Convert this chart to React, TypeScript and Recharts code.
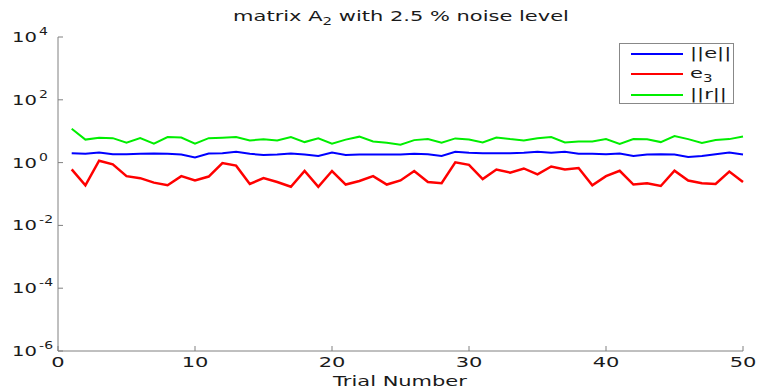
import React from 'react';
import { LineChart, Line, XAxis, YAxis, Legend } from 'recharts';

const trials = [
  1, 2, 3, 4, 5, 6, 7, 8, 9, 10, 11, 12, 13, 14, 15, 16, 17, 18, 19, 20, 21, 22, 23, 24, 25,
  26, 27, 28, 29, 30, 31, 32, 33, 34, 35, 36, 37, 38, 39, 40, 41, 42, 43, 44, 45, 46, 47, 48, 49, 50,
];

// ||e||
const errNorm = [
  2.0, 1.9, 2.1, 1.85, 1.85, 1.9, 1.95, 1.9, 1.8, 1.45, 1.95, 2.0, 2.2, 1.9, 1.75, 1.8, 1.95, 1.8, 1.62, 2.1,
  1.75, 1.8, 1.8, 1.8, 1.8, 1.9, 1.85, 1.62, 2.2, 2.05, 2.0, 2.0, 2.0, 2.05, 2.2, 2.05, 2.2, 1.9, 1.9, 1.85,
  1.95, 1.62, 1.8, 1.85, 1.8, 1.5, 1.62, 1.85, 2.1, 1.8,
];

// e_3
const e3 = [
  0.61, 0.19, 1.15, 0.88, 0.37, 0.32, 0.23, 0.19, 0.37, 0.27, 0.36, 0.97, 0.8, 0.21, 0.32, 0.24, 0.17, 0.54, 0.17, 0.54,
  0.2, 0.26, 0.37, 0.2, 0.27, 0.54, 0.24, 0.22, 1.02, 0.85, 0.3, 0.6, 0.48, 0.65, 0.42, 0.75, 0.6, 0.67, 0.19, 0.37,
  0.55, 0.2, 0.22, 0.18, 0.55, 0.27, 0.22, 0.21, 0.52, 0.24,
];

// ||r||
const resNorm = [
  12, 5.4, 6.2, 6, 4.3, 6, 4.0, 6.5, 6.3, 4.0, 6, 6.2, 6.5, 5.1, 5.5, 5.1, 6.5, 4.5, 5.9, 4.0,
  5.4, 6.7, 4.7, 4.3, 3.7, 5.2, 5.6, 4.3, 5.9, 5.4, 4.4, 6.3, 5.6, 5.1, 6.0, 6.5, 4.4, 4.7, 4.7, 5.6,
  3.9, 5.6, 5.5, 4.5, 7.0, 5.6, 4.2, 5.2, 5.6, 6.8,
];

const xTicks = [0, 10, 20, 30, 40, 50];
const yTicks = [1e-6, 1e-4, 1e-2, 1, 1e2, 1e4];

const series = [
  { key: 'e', label: '||e||', color: '#0000ff', width: 2 },
  { key: 'e3', label: 'e3', color: '#ff0000', width: 2.5 },
  { key: 'r', label: '||r||', color: '#00ee00', width: 2 },
];

const data = trials.map((t, i) => ({ trial: t, e: errNorm[i], e3: e3[i], r: resNorm[i] }));

const FONT = '"DejaVu Sans", Verdana, sans-serif';
const SX = 1.5; // the source text is stretched sideways
const INK = '#1a1a1a';

const XTick = ({ x, y, payload }: any) => (
  <g transform={`translate(${x},${y}) scale(${SX},1)`}>
    <text textAnchor="middle" dy="0.71em" fontSize={14} fill={INK} fontFamily={FONT}>
      {payload.value}
    </text>
  </g>
);

const YTick = ({ x, y, payload }: any) => {
  const exp = Math.round(Math.log10(payload.value));
  return (
    <g transform={`translate(${x},${y}) scale(1.4,1)`}>
      <text textAnchor="end" dy="0.36em" fontSize={14} fill={INK} fontFamily={FONT}>10</text>
      <text x={1.5} y={-2} fontSize={10} fill={INK} fontFamily={FONT}>{String(exp)}</text>
    </g>
  );
};

const legendLabel = (key: string, label: string) =>
  key === 'e3' ? <span>e<sub style={{ fontSize: 10 }}>3</sub></span> : label;

const LegendBox = () => (
  <div style={{ width: 113, height: 59, border: '1px solid #888', background: '#fff', position: 'relative' }}>
    {series.map((s, i) => (
      <div key={s.key} style={{ position: 'absolute', left: 0, top: 10 + i * 20.3, height: 0 }}>
        <div style={{ position: 'absolute', left: 11, top: -1, width: 52, height: 2, background: s.color }} />
        <div style={{
          position: 'absolute', left: 70, top: -9, fontSize: 14, lineHeight: '16px', whiteSpace: 'nowrap',
          color: INK, transform: `scaleX(${SX})`, transformOrigin: 'left center', fontFamily: FONT,
        }}>
          {legendLabel(s.key, s.label)}
        </div>
      </div>
    ))}
  </div>
);

export default function App() {
  return (
    <div style={{ position: 'absolute', left: 0, top: 0, width: 759, height: 389, background: '#fff', fontFamily: FONT }}>
      <LineChart width={759} height={389} data={data} margin={{ top: 37, right: 16, bottom: 0, left: 0 }}>
        <XAxis
          dataKey="trial"
          type="number"
          domain={[0, 50]}
          ticks={xTicks}
          interval={0}
          height={38}
          stroke="#808080"
          tickSize={-5}
          tickMargin={11}
          tick={(p: any) => <XTick {...p} />}
        />
        <YAxis
          type="number"
          scale="log"
          domain={[1e-6, 1e4]}
          ticks={yTicks}
          interval={0}
          allowDataOverflow
          width={58}
          stroke="#808080"
          tickSize={-5}
          tickMargin={26}
          tick={(p: any) => <YTick {...p} />}
        />
        <Legend
          layout="vertical"
          align="center"
          verticalAlign="middle"
          wrapperStyle={{ position: 'absolute', left: 619, top: 43, width: 115, height: 61 }}
          content={() => <LegendBox />}
        />
        {series.map(s => (
          <Line key={s.key} dataKey={s.key} name={s.label} stroke={s.color} strokeWidth={s.width}
            dot={false} isAnimationActive={false} />
        ))}
      </LineChart>
      <svg width={759} height={389} style={{ position: 'absolute', left: 0, top: 0, pointerEvents: 'none' }}>
        <text transform={`translate(401,21) scale(${SX},1)`} textAnchor="middle" fontSize={14} fill={INK} fontFamily={FONT}>
          matrix A<tspan fontSize={10} dy={4}>2</tspan><tspan dy={-4}> with 2.5 % noise level</tspan>
        </text>
        <text transform={`translate(400,386) scale(${SX},1)`} textAnchor="middle" fontSize={14} fill={INK} fontFamily={FONT}>
          Trial Number
        </text>
      </svg>
    </div>
  );
}
